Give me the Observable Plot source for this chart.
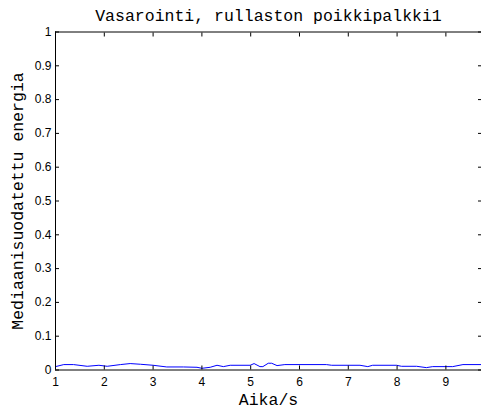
<!DOCTYPE html>
<html>
<head>
<meta charset="utf-8">
<script src="https://cdn.jsdelivr.net/npm/d3@7"></script>
<script src="https://cdn.jsdelivr.net/npm/@observablehq/plot@0.6"></script>
<style>
  html, body { margin: 0; padding: 0; background: white; }
  svg { display: block; }
</style>
</head>
<body>
<div id="chart"></div>
<script>
const titleText = "Vasarointi, rullaston poikkipalkki1";
const xLabel = "Aika/s";
const yLabel = "Mediaanisuodatettu energia";

const times = [1.0, 1.17, 1.37, 1.65, 1.89, 2.06, 2.33, 2.53, 2.74, 3.0, 3.28, 3.62, 3.9, 4.0, 4.17, 4.31, 4.44, 4.58, 4.99, 5.07, 5.19, 5.25, 5.36, 5.43, 5.54, 5.70, 6.55, 6.66, 7.24, 7.40, 7.50, 7.99, 8.09, 8.40, 8.60, 8.73, 9.14, 9.35, 9.73];
const energy = [0.010, 0.016, 0.016, 0.011, 0.014, 0.011, 0.016, 0.019, 0.017, 0.014, 0.009, 0.009, 0.008, 0.005, 0.008, 0.014, 0.010, 0.014, 0.014, 0.019, 0.010, 0.010, 0.020, 0.020, 0.013, 0.016, 0.016, 0.014, 0.014, 0.010, 0.014, 0.014, 0.011, 0.011, 0.007, 0.010, 0.010, 0.016, 0.016];

const xTicks = [1, 2, 3, 4, 5, 6, 7, 8, 9];
const xTickLabels = ["1", "2", "3", "4", "5", "6", "7", "8", "9"];
const yTicks = [0, 0.1, 0.2, 0.3, 0.4, 0.5, 0.6, 0.7, 0.8, 0.9, 1];
const yTickLabels = ["0", "0.1", "0.2", "0.3", "0.4", "0.5", "0.6", "0.7", "0.8", "0.9", "1"];

const data = times.map((t, i) => ({t, e: energy[i]}));
const mono = "'Liberation Mono', 'Courier New', monospace";

const chart = Plot.plot({
  width: 481,
  height: 412,
  marginLeft: 55,
  marginTop: 31.5,
  marginBottom: 42.5,
  marginRight: 0,
  style: {background: "white", fontFamily: "'Liberation Sans', Arial, sans-serif", fontSize: "12px", color: "black"},
  x: {domain: [1, 9.73]},
  y: {domain: [0, 1]},
  marks: [
    Plot.line(data, {x: "t", y: "e", stroke: "#0000ff", strokeWidth: 1, clip: true}),
    Plot.ruleX([1], {stroke: "black", strokeWidth: 1}),
    Plot.ruleY([0, 1], {stroke: "black", strokeWidth: 1}),
    Plot.axisX(xTicks, {anchor: "bottom", tickSize: 0, tickPadding: 7, tickFormat: (d, i) => xTickLabels[i], fontSize: 12, label: null}),
    Plot.axisX(xTicks, {anchor: "bottom", tickSize: -4, tickFormat: () => "", label: null}),
    Plot.axisX(xTicks, {anchor: "top", tickSize: -4, tickFormat: () => "", label: null}),
    Plot.axisY(yTicks, {anchor: "left", tickSize: 0, tickPadding: 4, tickFormat: (d, i) => yTickLabels[i], fontSize: 12, label: null}),
    Plot.axisY(yTicks, {anchor: "left", tickSize: -4, tickFormat: () => "", label: null}),
    Plot.axisY(yTicks, {anchor: "right", tickSize: -4, tickFormat: () => "", label: null}),
    Plot.text([titleText], {text: d => d, frameAnchor: "top", dy: -15.8, lineAnchor: "middle", textAnchor: "middle", fontFamily: mono, fontSize: 16.5, fill: "black"}),
    Plot.text([xLabel], {text: d => d, frameAnchor: "bottom", dy: 30.2, lineAnchor: "middle", textAnchor: "middle", fontFamily: mono, fontSize: 16.5, fill: "black"}),
    Plot.text([yLabel], {text: d => d, frameAnchor: "left", dx: -38, rotate: -90, lineAnchor: "middle", textAnchor: "middle", fontFamily: mono, fontSize: 16.5, fill: "black"})
  ]
});
document.getElementById("chart").appendChild(chart);
</script>
</body>
</html>
